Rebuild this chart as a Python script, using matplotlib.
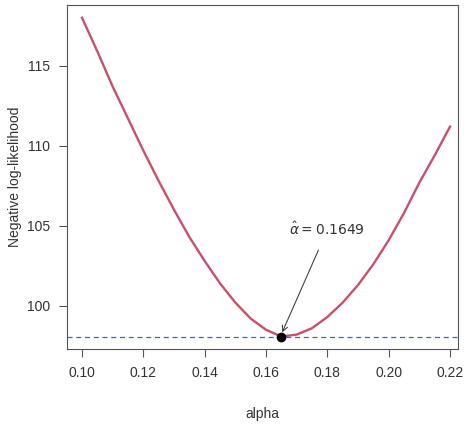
import numpy as np
import matplotlib
matplotlib.use("Agg")
import matplotlib.pyplot as plt

alpha = [0.100, 0.105, 0.110, 0.115, 0.120, 0.125, 0.130, 0.135, 0.140, 0.145,
         0.150, 0.155, 0.160, 0.165, 0.170, 0.175, 0.180, 0.185, 0.190, 0.195,
         0.200, 0.205, 0.210, 0.215, 0.220]
nll = [118.0, 115.9, 113.7, 111.7, 109.7, 107.8, 106.0, 104.3, 102.8, 101.4,
       100.2, 99.2, 98.5, 98.08, 98.2, 98.6, 99.3, 100.2, 101.3, 102.6,
       104.1, 105.8, 107.7, 109.4, 111.2]
alpha_hat = 0.1649
nll_min = 98.08

plt.rcParams["font.family"] = ["Liberation Sans", "DejaVu Sans"]
fig = plt.figure(figsize=(4.74, 4.24), dpi=100)
ax = fig.add_axes([67 / 474, 75 / 424, 391 / 474, 344 / 424])

ax.plot(alpha, nll, color="#c8506a", lw=1.7, solid_joinstyle="round")
ax.axhline(nll_min, color="#5560a8", lw=0.9, ls=(0, (4, 3)))
ax.plot([alpha_hat], [nll_min], "o", color="black", ms=6)
ax.annotate(r"$\hat{\alpha} = 0.1649$", xy=(alpha_hat, nll_min + 0.1),
            xytext=(0.1800, 104.75), ha="center", va="center", fontsize=10, color="#333333",
            arrowprops=dict(arrowstyle="->", color="#444444", lw=0.8, shrinkA=7, shrinkB=2))

ax.set_xlim(0.0951, 0.2226)
ax.set_ylim(97.3, 118.8)
ax.set_xticks([0.10, 0.12, 0.14, 0.16, 0.18, 0.20, 0.22])
ax.set_xticklabels(["0.10", "0.12", "0.14", "0.16", "0.18", "0.20", "0.22"])
ax.set_yticks([100, 105, 110, 115])
ax.tick_params(direction="out", length=6, color="#555555", labelsize=10, labelcolor="#333333", pad=6)
for s in ax.spines.values():
    s.set_color("#555555")
ax.set_xlabel("alpha", fontsize=10, color="#333333", labelpad=20)
ax.set_ylabel("Negative log-likelihood", fontsize=10, color="#333333", labelpad=4)

fig.savefig("out.png", dpi=100)
